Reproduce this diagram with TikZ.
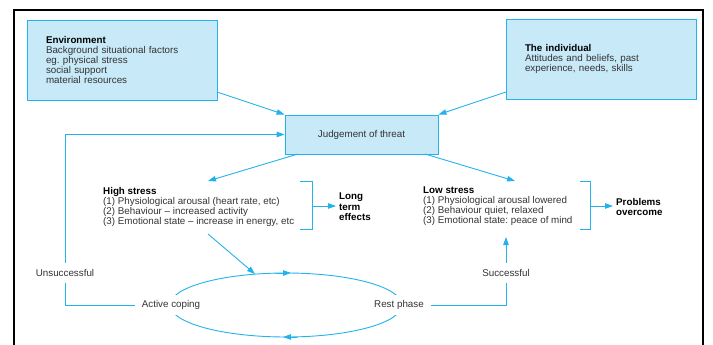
\documentclass[tikz,border=0pt]{standalone}
\usepackage{fontspec}
\setmainfont{Liberation Sans}
\usetikzlibrary{arrows.meta}
\definecolor{cy}{HTML}{22B2EC}
\definecolor{boxfill}{HTML}{C8E9F8}
\definecolor{txtc}{HTML}{333333}
\newcommand\hdg[1]{\textcolor{black}{\textbf{#1}}}
\begin{document}
\frenchspacing
\begin{tikzpicture}[x=1pt,y=-1pt,
 every node/.style={font=\fontsize{9.8}{10}\selectfont\frenchspacing, text=txtc},
 box/.style={draw=cy, fill=boxfill, line width=0.9pt},
 conn/.style={draw=cy, line width=0.9pt},
 arr/.style={conn, -{Triangle[length=8pt,width=5.5pt]}},
 lbl/.style={fill=white, inner xsep=7pt, inner ysep=0pt, minimum height=20pt},
 blk/.style={align=left, inner sep=0pt, anchor=north west}
]
\useasboundingbox (0,0) rectangle (713,345);
\draw[line width=2pt] (14,346) -- (14,10) -- (703,10) -- (703,346);

\node[box, minimum width=190pt, minimum height=80pt, text width=152pt, align=left, inner sep=0pt] (env) at (122,60)
 {\hdg{Environment}\\Background situational factors\\eg.\ physical stress\\social support\\material resources};
\node[box, minimum width=190pt, minimum height=80pt, text width=152pt, align=left, inner sep=0pt] (indiv) at (601,59)
 {\hdg{The individual}\\Attitudes and beliefs, past\\experience, needs, skills};
\node[box, minimum width=153pt, minimum height=39pt] (judge) at (361.5,134.5) {Judgement of threat};

\coordinate (e1) at (217,92);
\coordinate (i1) at (506,92);
\draw[arr] (e1) -- (judge.north west);
\draw[arr] (i1) -- (judge.north east);

\node[blk] (high) at (103,187) {\hdg{High stress}\\(1) Physiological arousal (heart rate, etc)\\(2) Behaviour -- increased activity\\(3) Emotional state -- increase in energy, etc};
\node[blk] (low) at (423,187) {\hdg{Low stress}\\(1) Physiological arousal lowered\\(2) Behaviour quiet, relaxed\\(3) Emotional state: peace of mind};

\coordinate (j1) at (298,154);
\coordinate (hin) at (208,181);
\coordinate (j2) at (425,154);
\coordinate (lin) at (515,181);
\draw[arr] (j1) -- (hin);
\draw[arr] (j2) -- (lin);

\node[align=left, inner xsep=3pt, inner ysep=0pt, anchor=west, font=\fontsize{9.8}{10.5}\selectfont] (long) at (336,207) {\hdg{Long}\\\hdg{term}\\\hdg{effects}};
\node[align=left, inner xsep=3pt, inner ysep=0pt, anchor=west] (prob) at (613,207) {\hdg{Problems}\\\hdg{overcome}};

\draw[conn] (300,181) -- (312,181) -- (312,229) -- (300,229);
\coordinate (b1) at (312,206);
\draw[arr] (b1) -- (b1 -| long.west);
\draw[conn] (580,181) -- (590,181) -- (590,229) -- (580,229);
\coordinate (b2) at (590,206);
\draw[arr] (b2) -- (b2 -| prob.west);

\draw[conn] (286,305) ellipse [x radius=116, y radius=32];
\draw[arr] (276,273) -- (291,273);
\draw[arr] (297,337) -- (283,337);

\coordinate (h2) at (208,234);
\coordinate (c1) at (255,274);
\draw[arr] (h2) -- (c1);

\node[lbl] (coping) at (171,305) {Active coping};
\node[lbl] (rest) at (399,305) {Rest phase};
\node[lbl] (unsucc) at (65,273) {Unsuccessful};
\node[lbl] (succ) at (506,273) {Successful};

\coordinate (lowin) at (506,237);
\draw[conn] (coping.west) -| (unsucc.south);
\draw[arr] (unsucc.north) |- (judge.west);
\draw[conn] (rest.east) -| (succ.south);
\draw[arr] (succ.north) -- (lowin);
\end{tikzpicture}
\end{document}
